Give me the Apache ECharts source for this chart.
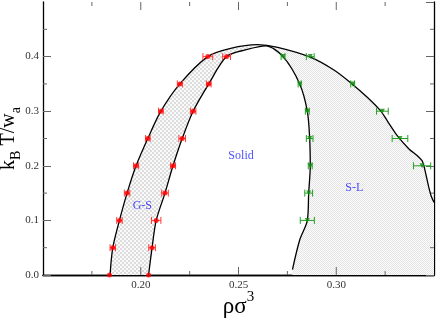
<!DOCTYPE html>
<html><head><meta charset="utf-8">
<script src="https://cdn.jsdelivr.net/npm/echarts@6/dist/echarts.min.js"></script>
<style>html,body{margin:0;padding:0;background:#fff}#c{width:436px;height:318px}</style>
</head><body><div id="c"></div>
<script>
// ---- data ----
const gsTemps     = [0.00, 0.05, 0.10, 0.15, 0.20, 0.25, 0.30, 0.35, 0.40];
const gsLeftX     = [0.1840, 0.1857, 0.1891, 0.1930, 0.1976, 0.2036, 0.2103, 0.2200, 0.2343];
const gsLeftErr   = [0, 0.0014, 0.0014, 0.0014, 0.0013, 0.0012, 0.0012, 0.0013, 0.0025];
const gsRightX    = [0.2040, 0.2058, 0.2079, 0.2124, 0.2165, 0.2212, 0.2268, 0.2348, 0.2439];
const gsRightErr  = [0, 0.0017, 0.0024, 0.0017, 0.0013, 0.0017, 0.0014, 0.0012, 0.0020];

const slSolidTemps = [0.10, 0.15, 0.20, 0.25, 0.30, 0.35, 0.40];
const slSolidX     = [0.2852, 0.2859, 0.2867, 0.2864, 0.2852, 0.2813, 0.2728];
const slSolidErr   = [0.0036, 0.0020, 0.0010, 0.0017, 0.0010, 0.0008, 0.0010];
const slLiqTemps   = [0.20, 0.25, 0.30, 0.35, 0.40];
const slLiqX       = [0.3439, 0.3326, 0.3236, 0.3084, 0.2867];
const slLiqErr     = [0.0044, 0.0040, 0.0030, 0.0010, 0.0020];

// outer boundary: G-S low-density branch -> top -> S-L liquid branch
const outerCurve = [[0.1843,0.0],[0.1857,0.05],[0.1891,0.10],[0.1930,0.15],[0.1976,0.20],
  [0.2036,0.25],[0.2103,0.30],[0.2200,0.35],[0.2343,0.40],[0.2460,0.4150],[0.2597,0.4218],
  [0.2700,0.4170],[0.2867,0.3990],[0.2990,0.3750],[0.3084,0.3490],[0.3160,0.3250],
  [0.3227,0.3005],[0.3261,0.2824],[0.3312,0.2551],[0.3372,0.2309],[0.3414,0.2187],
  [0.3439,0.2096],[0.3448,0.2005],[0.3456,0.1884],[0.3473,0.1611],[0.3485,0.1450],[0.3500,0.1330]];
// inner boundary: G-S solid branch -> top -> S-L solid branch
const innerCurve = [[0.2040,0.0],[0.2058,0.05],[0.2079,0.10],[0.2124,0.15],[0.2165,0.20],
  [0.2212,0.25],[0.2268,0.30],[0.2348,0.35],[0.2439,0.40],[0.2540,0.4127],[0.2640,0.4196],
  [0.2728,0.40],[0.2813,0.35],[0.2852,0.30],[0.2864,0.25],[0.2867,0.20],[0.2859,0.15],
  [0.2852,0.10],[0.2813,0.064],[0.2776,0.010]];
const outerPeakIdx = 10;   // index of top point of outer curve
const innerPeakIdx = 10;   // index of top point of inner curve

const regionNames  = ['G-S', 'Solid', 'S-L'];
const regionPos    = [[0.2008, 0.126], [0.2513, 0.218], [0.3092, 0.159]];

// axis ranges and tick values
const xRange = [0.15, 0.35];
const yRange = [0.0, 0.5];
const majorXTicks = [0.20, 0.25, 0.30];
const minorXTicks = [0.175, 0.225, 0.275, 0.325];
const minorYTicks = [0.05, 0.15, 0.25, 0.35, 0.45];

// ---- patterns ----
function checker(cell, c1, c2) {
  const cv = document.createElement('canvas');
  cv.width = cv.height = cell * 2;
  const g = cv.getContext('2d');
  g.fillStyle = c2; g.fillRect(0, 0, cell * 2, cell * 2);
  g.fillStyle = c1; g.fillRect(0, 0, cell, cell); g.fillRect(cell, cell, cell, cell);
  return { image: cv, repeat: 'repeat' };
}
const gsPattern = checker(2, '#dcdcdc', '#fafafa');
const slPattern = checker(1, '#e4e4e4', '#fcfcfc');

const gsPoly = outerCurve.slice(0, outerPeakIdx + 1)
  .concat(innerCurve.slice(0, innerPeakIdx).reverse());
const slPoly = outerCurve.slice(outerPeakIdx + 1)
  .concat([[xRange[1], 0], [innerCurve[innerCurve.length - 1][0], 0]])
  .concat(innerCurve.slice(innerPeakIdx).reverse());

function polySeries(poly, fill) {
  return {
    type: 'custom', clip: true, silent: true, z: 1,
    data: [[0]],
    renderItem: function (params, api) {
      return { type: 'polygon', shape: { points: poly.map(p => api.coord(p)) },
               style: { fill: fill, stroke: null } };
    }
  };
}

function errSeries(xs, temps, errs, color) {
  return {
    type: 'custom', clip: true, z: 4,
    data: xs.map((x, i) => [x, temps[i], errs[i]]),
    renderItem: function (params, api) {
      const x = api.value(0), y = api.value(1), e = api.value(2);
      if (!e) return null;
      const a = api.coord([x - e, y]), b = api.coord([x + e, y]);
      const st = { stroke: color, lineWidth: 1 };
      return { type: 'group', children: [
        { type: 'line', shape: { x1: a[0], y1: a[1], x2: b[0], y2: b[1] }, style: st },
        { type: 'line', shape: { x1: a[0], y1: a[1] - 3.5, x2: a[0], y2: a[1] + 3.5 }, style: st },
        { type: 'line', shape: { x1: b[0], y1: b[1] - 3.5, x2: b[0], y2: b[1] + 3.5 }, style: st }
      ]};
    }
  };
}

// inside x ticks (major + minor, bottom and top) and inside minor y ticks, via the axes' scales
const tickSeries = {
  type: 'custom', clip: false, silent: true, z: 2, data: [[0]],
  renderItem: function (params, api) {
    const st = { stroke: '#666', lineWidth: 1 };
    const ch = [];
    function xt(v, len) {
      const b = api.coord([v, yRange[0]]), t = api.coord([v, yRange[1]]);
      ch.push({ type: 'line', shape: { x1: b[0], y1: b[1], x2: b[0], y2: b[1] - len }, style: st });
      ch.push({ type: 'line', shape: { x1: t[0], y1: t[1], x2: t[0], y2: t[1] + len }, style: st });
    }
    majorXTicks.forEach(v => xt(v, 8));
    minorXTicks.forEach(v => xt(v, 4));
    minorYTicks.forEach(v => {
      const l = api.coord([xRange[0], v]), r = api.coord([xRange[1], v]);
      ch.push({ type: 'line', shape: { x1: l[0], y1: l[1], x2: l[0] + 4, y2: l[1] }, style: st });
      ch.push({ type: 'line', shape: { x1: r[0], y1: r[1], x2: r[0] - 4, y2: r[1] }, style: st });
    });
    return { type: 'group', children: ch };
  }
};

const serif = 'Liberation Serif';
const tickStyle = { show: true, inside: true, length: 8, lineStyle: { color: '#666', width: 1 } };
const axLine = { show: true, lineStyle: { color: '#000', width: 1.3 } };
const lblStyle = { fontFamily: serif, fontSize: 11, color: '#333' };

function xAx(pos, extra) {
  return Object.assign({ type: 'value', position: pos, min: xRange[0], max: xRange[1], interval: 0.05,
    axisLine: axLine, axisTick: { show: false }, minorTick: { show: false },
    splitLine: { show: false }, axisLabel: { show: false } }, extra || {});
}
function yAx(pos, extra) {
  return Object.assign({ type: 'value', position: pos, min: yRange[0], max: yRange[1], interval: 0.1,
    axisLine: axLine, axisTick: tickStyle, minorTick: { show: false },
    splitLine: { show: false }, axisLabel: { show: false } }, extra || {});
}

const chart = echarts.init(document.getElementById('c'));
chart.setOption({
  animation: false,
  grid: { left: 43, right: 2, top: 2, bottom: 43, containLabel: false, outerBoundsMode: 'none' },
  xAxis: [
    xAx('bottom', {
      axisLabel: Object.assign({ show: true, margin: 5, showMinLabel: false, showMaxLabel: false,
        formatter: v => v.toFixed(2) }, lblStyle),
      name: '{a|ρσ}{s|3}', nameLocation: 'middle', nameGap: 15, nameMoveOverlap: false,
      nameTextStyle: { rich: {
        a: { fontFamily: serif, fontSize: 23, color: '#000', verticalAlign: 'top', padding: [5, 0, 0, 0] },
        s: { fontFamily: serif, fontSize: 15, color: '#000', verticalAlign: 'top' } } }
    }),
    xAx('top')
  ],
  yAxis: [
    yAx('left', {
      axisLabel: Object.assign({ show: true, margin: 4, showMaxLabel: false,
        formatter: v => v.toFixed(1) }, lblStyle),
      name: '{a|k}{s|B}{a| T/w}{s|a}', nameLocation: 'middle', nameGap: 20, nameRotate: 90,
      nameMoveOverlap: false,
      nameTextStyle: { rich: {
        a: { fontFamily: serif, fontSize: 20, color: '#000', verticalAlign: 'top' },
        s: { fontFamily: serif, fontSize: 14, color: '#000', verticalAlign: 'top', padding: [10, 0, 0, 0] } } }
    }),
    yAx('right')
  ],
  series: [
    polySeries(gsPoly, gsPattern),
    polySeries(slPoly, slPattern),
    tickSeries,
    { type: 'line', data: outerCurve, smooth: 0.3, showSymbol: false, z: 3, clip: true,
      lineStyle: { color: '#000', width: 1.3 } },
    { type: 'line', data: innerCurve, smooth: 0.3, showSymbol: false, z: 3, clip: true,
      lineStyle: { color: '#000', width: 1.3 } },
    errSeries(gsLeftX, gsTemps, gsLeftErr, '#ff3b3b'),
    errSeries(gsRightX, gsTemps, gsRightErr, '#ff3b3b'),
    errSeries(slSolidX, slSolidTemps, slSolidErr, '#22a022'),
    errSeries(slLiqX, slLiqTemps, slLiqErr, '#22a022'),
    { type: 'scatter', z: 5, symbol: 'circle', symbolSize: 5, itemStyle: { color: '#ff0000' },
      data: gsLeftX.map((x, i) => [x, gsTemps[i]]) },
    { type: 'scatter', z: 5, symbol: 'circle', symbolSize: 5, itemStyle: { color: '#ff0000' },
      data: gsRightX.map((x, i) => [x, gsTemps[i]]) },
    { type: 'scatter', z: 5, symbol: 'triangle', symbolRotate: 180, symbolSize: 5,
      itemStyle: { color: '#108a10' }, data: slSolidX.map((x, i) => [x, slSolidTemps[i]]) },
    { type: 'scatter', z: 5, symbol: 'triangle', symbolRotate: 180, symbolSize: 5,
      itemStyle: { color: '#108a10' }, data: slLiqX.map((x, i) => [x, slLiqTemps[i]]) },
    { type: 'scatter', z: 6, symbolSize: 0, silent: true,
      data: regionNames.map((n, i) => ({ name: n, value: regionPos[i] })),
      label: { show: true, position: 'inside', formatter: p => p.name,
        fontFamily: serif, fontSize: 12, color: '#1a1aff' } }
  ]
});
</script></body></html>
